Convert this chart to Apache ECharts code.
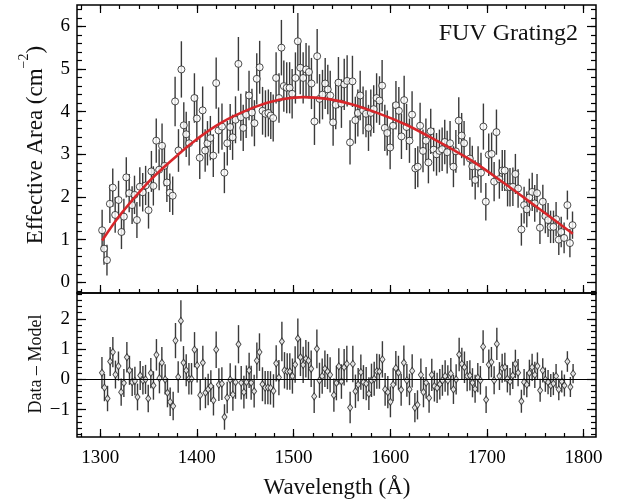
<!DOCTYPE html>
<html><head><meta charset="utf-8">
<script src="https://cdn.jsdelivr.net/npm/echarts@6/dist/echarts.min.js"></script>
<style>html,body{margin:0;padding:0;background:#fff}#c{width:618px;height:500px}</style>
</head><body><div id="c"></div>
<script>
// ---------- data ----------
const wavelength = [
 1302,1304,1307,1310,1313,1315.5,1319,1322,1324.5,1327,
 1330,1333,1335.5,1338,1341,1344,1347,1350,1353,1355,
 1358,1361,1364,1366.5,1369,1372,1375,1377.5,1381,1384,
 1386.5,1389,1392,1397.5,1400,1403,1406,1408.6,1411,1414,
 1417,1420,1422.5,1426,1428.5,1431.5,1434.5,1437,1440,1443,
 1445.5,1448,1451,1454,1457,1459.6,1462,1465,1468,1471,
 1474,1476.5,1479,1482,1485,1487.5,1490,1493,1496,1498.6,
 1502,1504.5,1507,1510,1513,1516,1518.6,1521.7,1524.5,1527,
 1530,1532.8,1535.5,1538,1541,1543.7,1546.5,1549.6,1552.5,1555.5,
 1558.5,1561,1564,1566.6,1569,1572,1575,1577.6,1580,1583,
 1586,1589,1591.7,1594.5,1597,1600,1603,1606,1609,1611.7,
 1614.5,1617,1620,1622.7,1626,1628.6,1631,1634,1637,1639.6,
 1642,1645,1648,1651,1653.8,1656.5,1659,1662,1665.5,1668,
 1671,1674,1676.5,1682.5,1685,1688,1691,1694,1696.5,1699,
 1702,1705,1707.6,1710,1713,1716,1718.6,1721.5,1724,1727,
 1729.6,1732.4,1735.8,1738.6,1741.4,1744,1747,1749.6,1752,1755,
 1758,1760.6,1763.4,1766,1769,1771.7,1774.5,1777,1780,1783.4,
 1786,1788.7
];
const area = [
 1.22,0.79,0.52,1.84,2.22,1.58,1.93,1.18,1.54,2.46,
 2.09,1.81,2.05,1.46,2.24,2.11,2.27,1.69,2.60,2.26,
 3.32,2.64,3.20,2.73,2.34,2.10,2.03,4.24,3.09,4.99,
 3.68,3.47,3.26,4.32,3.84,2.92,4.03,3.09,3.26,3.38,
 2.97,4.67,3.56,3.65,2.57,3.26,3.64,3.40,3.81,5.12,
 3.87,3.62,3.93,4.38,3.98,3.73,4.77,5.04,4.02,3.95,
 3.97,3.91,3.85,4.79,4.32,5.50,4.60,4.56,4.56,4.42,
 4.79,5.65,5.03,4.79,4.99,4.93,4.66,3.77,5.30,4.30,
 4.40,4.66,4.52,4.38,3.75,4.16,4.68,4.19,4.64,4.72,
 3.28,4.71,3.80,3.97,4.38,4.03,3.95,3.62,3.97,4.06,
 4.32,4.26,4.61,3.62,3.50,3.16,3.67,4.15,4.02,3.42,
 4.27,3.64,3.32,3.93,2.67,2.71,3.67,3.08,3.32,2.81,
 3.54,3.11,3.00,3.08,3.12,3.29,3.05,3.26,2.71,3.07,
 3.79,3.44,3.26,2.90,2.72,2.40,2.71,2.57,3.65,1.89,
 2.99,3.01,2.36,3.52,2.42,2.62,2.62,2.23,2.23,2.24,
 2.54,2.20,1.24,1.81,1.71,1.99,2.12,1.85,2.09,1.28,
 1.89,1.55,1.46,1.30,1.30,1.48,1.00,1.18,1.04,1.81,
 0.92,1.34
];
const areaErr = [
 0.48,0.38,0.36,0.45,0.45,0.42,0.45,0.40,0.42,0.47,
 0.45,0.44,0.45,0.42,0.46,0.45,0.46,0.43,0.48,0.46,
 0.52,0.48,0.52,0.48,0.46,0.45,0.45,0.58,0.50,0.66,
 0.54,0.53,0.52,0.58,0.55,0.50,0.56,0.50,0.52,0.52,
 0.50,0.60,0.54,0.54,0.48,0.52,0.54,0.53,0.55,0.63,
 0.55,0.54,0.55,0.58,0.56,0.54,0.60,0.62,0.56,0.55,
 0.55,0.55,0.55,0.60,0.58,0.65,0.60,0.60,0.60,0.58,
 0.60,0.66,0.62,0.60,0.62,0.62,0.60,0.55,0.64,0.58,
 0.58,0.60,0.58,0.58,0.55,0.57,0.60,0.57,0.60,0.60,
 0.52,0.60,0.55,0.55,0.58,0.56,0.55,0.54,0.55,0.56,
 0.58,0.57,0.60,0.54,0.53,0.51,0.54,0.57,0.56,0.53,
 0.57,0.54,0.52,0.55,0.48,0.48,0.54,0.50,0.52,0.49,
 0.53,0.51,0.50,0.50,0.51,0.52,0.50,0.52,0.48,0.50,
 0.55,0.53,0.52,0.50,0.48,0.46,0.48,0.47,0.54,0.44,
 0.50,0.50,0.46,0.53,0.46,0.48,0.48,0.45,0.45,0.45,
 0.47,0.45,0.38,0.43,0.42,0.44,0.45,0.43,0.45,0.38,
 0.40,0.40,0.40,0.38,0.38,0.40,0.36,0.36,0.36,0.34,
 0.33,0.32
];
const modelWave = [1302,1322,1347,1367,1381,1398,1425,1459,1485,1510,1535,1559,1588,1616,1640,1664,1688,1717,1752,1789];
const modelArea = [0.98,1.62,2.28,2.72,3.00,3.32,3.74,4.10,4.28,4.34,4.30,4.18,3.96,3.70,3.42,3.12,2.80,2.34,1.76,1.14];

const residWave = [
 1301.8,1304.4,1307.6,1310.3,1313.1,1315.8,1318.9,1321.7,1324.5,1327.6,
 1330.3,1333.1,1335.9,1338.6,1341.4,1344.2,1346.9,1349.7,1352.4,1355.1,
 1358.2,1361.3,1363.8,1367.2,1369.6,1372.4,1375.5,1377.9,1380.7,1383.5,
 1386.2,1389.0,1391.8,1394.5,1397.6,1400.3,1403.5,1406.2,1408.9,1411.7,
 1414.5,1417.2,1420.0,1422.8,1425.9,1428.6,1431.4,1434.5,1437.3,1440.0,
 1443.1,1445.9,1448.7,1451.3,1454.1,1456.2,1459.3,1462.1,1464.8,1467.9,
 1470.7,1473.5,1476.2,1479.3,1482.1,1484.9,1488.0,1490.7,1493.5,1496.2,
 1498.9,1501.7,1504.5,1507.2,1510.0,1512.8,1515.5,1518.3,1521.4,1524.2,
 1526.9,1529.7,1532.5,1535.2,1537.9,1541.8,1544.4,1546.9,1549.6,1552.4,
 1555.2,1558.6,1561.4,1564.1,1566.9,1569.7,1572.4,1575.2,1578.0,1580.7,
 1583.5,1586.2,1588.9,1592.0,1594.8,1597.6,1600.3,1603.1,1605.9,1608.6,
 1611.4,1614.2,1617.3,1620.0,1622.8,1625.6,1628.3,1631.8,1634.5,1637.2,
 1640.3,1643.1,1645.8,1648.6,1651.4,1654.1,1656.9,1659.7,1662.8,1665.5,
 1668.3,1671.4,1674.2,1676.9,1679.7,1682.5,1685.2,1687.9,1690.7,1693.4,
 1696.2,1699.3,1702.1,1704.8,1707.6,1710.4,1713.1,1715.9,1718.7,1721.3,
 1724.1,1726.9,1729.6,1732.4,1735.8,1738.6,1741.4,1744.1,1746.9,1749.7,
 1752.4,1755.2,1757.9,1760.6,1763.4,1766.2,1768.9,1771.7,1774.5,1777.6,
 1780.3,1783.4,1786.5,1789.3
];
const resid = [
 0.22,-0.27,-0.63,0.59,0.90,0.16,0.44,-0.42,-0.12,0.73,
 0.30,-0.09,-0.05,-0.58,0.13,-0.03,0.00,-0.63,0.21,-0.20,
 0.81,0.04,0.55,0.00,-0.44,-0.74,-0.88,1.28,0.08,1.93,
 0.55,0.30,0.02,0.02,0.98,0.46,-0.52,0.55,-0.44,-0.33,
 -0.22,-0.69,0.98,-0.17,-0.14,-1.24,-0.60,-0.01,-0.50,-0.09,
 1.16,-0.11,-0.42,-0.09,0.30,-0.11,-0.39,0.62,0.90,-0.16,
 -0.27,-0.27,-0.28,-0.38,0.53,0.06,1.25,0.30,0.26,0.26,
 0.11,0.49,1.35,0.73,0.48,0.68,0.62,0.35,-0.56,1.01,
 -0.03,0.11,0.35,0.26,0.15,-0.52,-0.12,0.43,-0.07,0.40,
 0.51,-0.93,0.51,-0.39,-0.17,0.24,-0.09,-0.14,-0.47,-0.03,
 0.02,0.27,0.26,0.66,-0.33,-0.42,-0.74,-0.17,0.37,0.22,
 -0.34,0.55,-0.03,-0.33,0.28,-0.93,-0.84,0.15,-0.42,-0.11,
 -0.61,0.15,-0.22,-0.28,-0.16,-0.03,0.11,-0.03,0.19,-0.33,
 0.00,0.82,0.51,0.40,0.11,0.13,-0.11,-0.31,0.06,-0.03,
 1.08,-0.67,0.49,0.57,-0.03,1.17,0.11,0.37,0.40,0.02,
 -0.07,0.13,0.51,0.22,-0.72,-0.09,-0.17,0.21,0.40,0.15,
 0.44,-0.36,0.30,-0.01,-0.09,-0.20,-0.14,0.11,-0.33,-0.07,
 -0.20,0.59,-0.25,0.19
];
const residErr = [
 0.52,0.45,0.42,0.48,0.50,0.46,0.48,0.45,0.46,0.50,
 0.48,0.46,0.47,0.44,0.48,0.47,0.48,0.45,0.50,0.47,
 0.52,0.50,0.52,0.50,0.48,0.47,0.47,0.58,0.52,0.68,
 0.55,0.53,0.52,0.52,0.58,0.56,0.50,0.56,0.51,0.52,
 0.52,0.50,0.60,0.54,0.54,0.42,0.52,0.54,0.53,0.55,
 0.63,0.55,0.54,0.55,0.58,0.56,0.54,0.60,0.62,0.56,
 0.55,0.55,0.55,0.55,0.60,0.58,0.65,0.60,0.60,0.60,
 0.58,0.60,0.66,0.62,0.60,0.62,0.62,0.60,0.55,0.64,
 0.58,0.58,0.60,0.58,0.58,0.55,0.57,0.60,0.57,0.60,
 0.60,0.52,0.60,0.55,0.55,0.58,0.56,0.55,0.54,0.55,
 0.56,0.58,0.57,0.60,0.54,0.53,0.51,0.54,0.57,0.56,
 0.53,0.57,0.54,0.52,0.55,0.48,0.48,0.54,0.50,0.52,
 0.49,0.53,0.51,0.50,0.50,0.51,0.52,0.50,0.52,0.48,
 0.50,0.55,0.53,0.52,0.50,0.50,0.48,0.46,0.48,0.47,
 0.54,0.44,0.50,0.50,0.46,0.53,0.46,0.48,0.48,0.45,
 0.45,0.45,0.47,0.45,0.38,0.43,0.42,0.44,0.45,0.43,
 0.45,0.38,0.40,0.40,0.40,0.38,0.38,0.40,0.36,0.36,
 0.36,0.34,0.33,0.32
];

const xTicks = [1300,1400,1500,1600,1700,1800];
const yTicksTop = [0,1,2,3,4,5,6];
const yTicksBottom = [-1,0,1,2];

// ---------- layout / style ----------
const FONT = '"Liberation Serif", "DejaVu Serif", serif';
const X_MIN = 1276, X_MAX = 1813;
const TOP_MIN = -0.25, TOP_MAX = 6.5;
const BOT_MIN = -1.9, BOT_MAX = 2.85;

function range(a, b, step) { const out = []; for (let v = a; v <= b + 1e-9; v += step) out.push(+v.toFixed(3)); return out; }
const xMinor = range(1280, 1810, 20);
const yMinorTop = range(-0.2, 6.4, 0.2);
const yMinorBot = range(-1.8, 2.8, 0.2);

const tickStyle = { color: '#000', width: 1.2 };
const numFmt = v => (v < 0 ? '\u2212' + Math.abs(v) : String(v));
function xAx(grid, pos, ticks, len, labels) {
  return {
    type: 'value', gridIndex: grid, position: pos, min: X_MIN, max: X_MAX,
    axisLine: { show: false, onZero: false }, splitLine: { show: false },
    axisTick: { show: true, inside: true, length: len, customValues: ticks, lineStyle: tickStyle },
    axisLabel: labels ? { show: true, customValues: xTicks, fontFamily: FONT, fontSize: 19, color: '#000', margin: 12, formatter: numFmt } : { show: false }
  };
}
function yAx(grid, pos, mn, mx, ticks, len, labels) {
  return {
    type: 'value', gridIndex: grid, position: pos, min: mn, max: mx,
    axisLine: { show: false, onZero: false }, splitLine: { show: false },
    axisTick: { show: true, inside: true, length: len, customValues: ticks, lineStyle: tickStyle },
    axisLabel: labels ? { show: true, customValues: labels, fontFamily: FONT, fontSize: 19, color: '#000', margin: 7, formatter: numFmt } : { show: false }
  };
}

function errBars(xs, ys, es, xi, yi) {
  return {
    type: 'custom', xAxisIndex: xi, yAxisIndex: yi, silent: true, z: 2, clip: true,
    data: xs.map((x, i) => [x, ys[i] - es[i], ys[i] + es[i]]),
    renderItem: (params, api) => {
      const p1 = api.coord([api.value(0), api.value(1)]);
      const p2 = api.coord([api.value(0), api.value(2)]);
      return { type: 'line', shape: { x1: p1[0], y1: p1[1], x2: p2[0], y2: p2[1] },
        style: { stroke: '#3a3a3a', lineWidth: 1.4 } };
    }
  };
}

const chart = echarts.init(document.getElementById('c'), null, { renderer: 'canvas' });
chart.setOption({
  animation: false,
  backgroundColor: '#fff',
  grid: [
    { left: 77, top: 5, right: 22, height: 288, show: true, borderColor: '#000', borderWidth: 1.5, backgroundColor: 'transparent' },
    { left: 77, top: 293, right: 22, height: 144, show: true, borderColor: '#000', borderWidth: 1.5, backgroundColor: 'transparent' }
  ],
  xAxis: [
    xAx(0, 'bottom', xTicks, 8, false),
    xAx(0, 'bottom', xMinor, 4, false),
    xAx(0, 'top', xTicks, 8, false),
    xAx(0, 'top', xMinor, 4, false),
    xAx(1, 'bottom', xTicks, 8, true),
    xAx(1, 'bottom', xMinor, 4, false)
  ],
  yAxis: [
    yAx(0, 'left', TOP_MIN, TOP_MAX, yTicksTop, 9, yTicksTop),
    yAx(0, 'left', TOP_MIN, TOP_MAX, yMinorTop, 5, null),
    yAx(0, 'right', TOP_MIN, TOP_MAX, yTicksTop, 9, null),
    yAx(0, 'right', TOP_MIN, TOP_MAX, yMinorTop, 5, null),
    yAx(1, 'left', BOT_MIN, BOT_MAX, yTicksBottom, 9, yTicksBottom),
    yAx(1, 'left', BOT_MIN, BOT_MAX, yMinorBot, 5, null),
    yAx(1, 'right', BOT_MIN, BOT_MAX, yTicksBottom, 9, null),
    yAx(1, 'right', BOT_MIN, BOT_MAX, yMinorBot, 5, null)
  ],
  series: [
    errBars(wavelength, area, areaErr, 0, 0),
    {
      type: 'scatter', xAxisIndex: 0, yAxisIndex: 0, z: 3, silent: true,
      data: wavelength.map((x, i) => [x, area[i]]),
      symbol: 'circle', symbolSize: 7,
      itemStyle: { color: '#fff', borderColor: '#222', borderWidth: 1 }
    },
    {
      type: 'line', xAxisIndex: 0, yAxisIndex: 0, z: 4, silent: true, smooth: 0.4,
      showSymbol: false, symbol: 'none',
      data: modelWave.map((x, i) => [x, modelArea[i]]),
      lineStyle: { color: '#d8262a', width: 2.6 }
    },
    errBars(residWave, resid, residErr, 4, 4),
    {
      type: 'scatter', xAxisIndex: 4, yAxisIndex: 4, z: 3, silent: true,
      data: residWave.map((x, i) => [x, resid[i]]),
      symbol: 'diamond', symbolSize: [5, 7],
      itemStyle: { color: '#fff', borderColor: '#222', borderWidth: 1 },
      markLine: {
        silent: true, symbol: 'none', label: { show: false },
        lineStyle: { color: '#000', width: 1.2, type: 'solid' },
        data: [{ yAxis: 0 }]
      }
    }
  ],
  graphic: [
    { type: 'text', x: 578, y: 34, z: 10, style: { text: 'FUV Grating2', font: '24px ' + FONT, fill: '#111', align: 'right', verticalAlign: 'middle' } },
    { type: 'text', x: 337, y: 488, z: 10, style: { text: 'Wavelength (\u00C5)', font: '23px ' + FONT, fill: '#111', align: 'center', verticalAlign: 'middle' } },
    { type: 'text', x: 32, y: 145, z: 10, rotation: Math.PI / 2,
      style: { text: '{a|Effective Area (cm}{s|\u22122}{a|)}', align: 'center', verticalAlign: 'middle', fill: '#111',
        rich: { a: { fontFamily: FONT, fontSize: 23, fill: '#111', lineHeight: 30, verticalAlign: 'bottom' },
                s: { fontFamily: FONT, fontSize: 14, fill: '#111', lineHeight: 30, verticalAlign: 'top' } } } },
    { type: 'text', x: 36, y: 364, z: 10, rotation: Math.PI / 2,
      style: { text: 'Data \u2013 Model', font: '18px ' + FONT, fill: '#111', align: 'center', verticalAlign: 'middle' } }
  ]
});
</script></body></html>
